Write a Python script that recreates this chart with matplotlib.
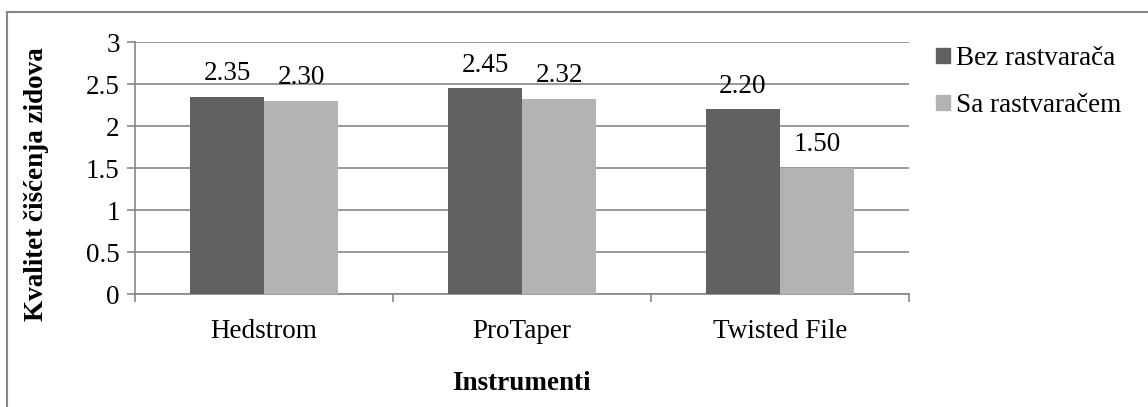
import matplotlib.pyplot as plt
import numpy as np
from matplotlib.patches import Patch

instruments = ['Hedstrom', 'ProTaper', 'Twisted File']
bez = [2.35, 2.45, 2.20]
sa = [2.30, 2.32, 1.50]
series_names = ['Bez rastvarača', 'Sa rastvaračem']
colors = ['#616161', '#b3b3b3']
grid_c = '#878787'

plt.rcParams['font.family'] = ['Liberation Serif', 'DejaVu Serif']
fs = 19.5

W, H = 1148, 407
fig = plt.figure(figsize=(W / 100, H / 100), dpi=100)
ax = fig.add_axes([135 / W, (H - 294) / H, (909 - 135) / W, (294 - 42) / H])

x = np.arange(len(instruments))
bw = 0.287
b1 = ax.bar(x - bw / 2, bez, bw, color=colors[0], zorder=3)
b2 = ax.bar(x + bw / 2, sa, bw, color=colors[1], zorder=3)

for bars in (b1, b2):
    for r in bars:
        ax.annotate('%.2f' % r.get_height(), (r.get_x() + r.get_width() / 2, r.get_height()),
                    xytext=(0, 12), textcoords='offset points', ha='center', va='baseline',
                    fontsize=fs, zorder=4)

ax.set_xlim(-0.5, 2.5)
ax.set_ylim(0, 3)
ax.set_yticks(np.arange(0, 3.01, 0.5))
ax.set_yticklabels(['0', '0.5', '1', '1.5', '2', '2.5', '3'])
ax.yaxis.grid(True, color=grid_c, lw=1.2, zorder=0)
ax.set_xticks(x)
ax.set_xticklabels(instruments)
ax.set_xticks([-0.5, 0.5, 1.5, 2.5], minor=True)
ax.tick_params(axis='x', which='major', length=0, pad=18, labelsize=fs)
ax.tick_params(axis='x', which='minor', length=6, color=grid_c, width=1.2)
ax.tick_params(axis='y', length=6, color=grid_c, width=1.2, pad=5, labelsize=fs)
for s in ('top', 'right'):
    ax.spines[s].set_visible(False)
for s in ('left', 'bottom'):
    ax.spines[s].set_color(grid_c)
    ax.spines[s].set_linewidth(1.2)

fig.text(37 / W, 1 - 184 / H, 'Kvalitet čišćenja zidova', rotation=90, ha='center', va='center',
         fontsize=fs, fontweight='bold')
fig.text(521 / W, 1 - 383 / H, 'Instrumenti', ha='center', va='center',
         fontsize=fs, fontweight='bold')

handles = [Patch(color=c) for c in colors]
fig.legend(handles, series_names, loc='upper left', bbox_to_anchor=(936 / W, 1 - 46 / H),
           frameon=False, fontsize=fs, handlelength=0.5, handleheight=0.5,
           handletextpad=0.25, labelspacing=0.82, borderpad=0, borderaxespad=0)

# outer chart frame (only left and top are inside the picture)
fig.add_artist(plt.Line2D([7 / W, 7 / W], [0, 1 - 12 / H], color=grid_c, lw=1.5))
fig.add_artist(plt.Line2D([7 / W, 1], [1 - 12 / H, 1 - 12 / H], color=grid_c, lw=1.5))

fig.savefig('out.png', dpi=100)
